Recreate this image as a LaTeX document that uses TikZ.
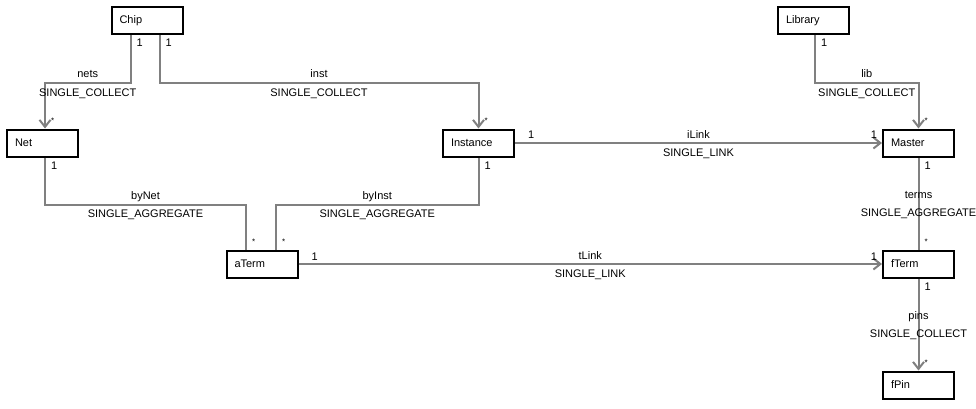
\documentclass[tikz,border=0pt]{standalone}
\usepackage{fontspec}
\setmainfont{Liberation Sans}
\usepackage{xcolor}
\usetikzlibrary{arrows.meta,positioning,calc}

\definecolor{linegray}{RGB}{128,128,128}

\begin{document}
\begin{tikzpicture}[
    x=1pt, y=1pt,
    class/.style={rectangle, draw, line width=2pt, minimum width=71pt, minimum height=27pt, text width=55pt, inner xsep=8pt, align=left, font=\fontsize{11}{13}\selectfont},
    assoc/.style={draw=linegray, line width=2pt},
    navig/.style={assoc, -{Straight Barb[length=7pt, width=11pt]}},
    mult/.style={font=\fontsize{11}{13}\selectfont, inner sep=0pt},
    onebelow/.style={mult, anchor=north west, xshift=5pt, yshift=-3pt},
    oneright/.style={mult, anchor=south west, xshift=12pt, yshift=3pt},
    oneleft/.style={mult, anchor=south east, xshift=-4pt, yshift=3pt},
    many/.style={mult, font=\fontsize{8}{10}\selectfont, anchor=base west, xshift=5pt, yshift=5pt},
    role/.style={font=\fontsize{11}{13}\selectfont, inner sep=4pt, text height=8pt, text depth=0pt},
    node distance=92pt
]
\useasboundingbox (0,0) rectangle (976,-409);

% Classes
\node[class] (chip) at (147,-20.5) {Chip};
\node[class] (library) at (813.5,-20.5) {Library};
\node[class] (net) at (42.5,-143) {Net};
\node[class] (instance) at (478.5,-143) {Instance};
\node[class] (master) at (918.5,-143) {Master};
\node[class, below=of master] (fterm) {fTerm};
\node[class, below=of fterm] (fpin) {fPin};
\node[class] (aterm) at (262,-264) {aTerm};

% Collections
\draw[navig] ([xshift=20pt]chip.south west) node[onebelow] {1} -- ++(0,-48)
    -| node[pos=0.25, role, above] {nets} node[pos=0.25, role, below] {SINGLE\_COLLECT}
    ([xshift=2.5pt]net.north) node[many] {*};
\draw[navig] ([xshift=49pt]chip.south west) node[onebelow] {1} -- ++(0,-48)
    -| node[pos=0.25, role, above] {inst} node[pos=0.25, role, below] {SINGLE\_COLLECT}
    (instance.north) node[many] {*};
\draw[navig] ([xshift=38pt]library.south west) node[onebelow] {1} -- ++(0,-48)
    -| node[pos=0.25, role, above] {lib} node[pos=0.25, role, below] {SINGLE\_COLLECT}
    (master.north) node[many] {*};
\draw[navig] (fterm.south) node[onebelow] {1}
    -- node[midway, role, above] {pins} node[midway, role, below] {SINGLE\_COLLECT}
    (fpin.north) node[many] {*};

% Aggregates
\draw[assoc] ([xshift=2.5pt]net.south) node[onebelow] {1} -- ++(0,-47)
    -| node[pos=0.25, role, above] {byNet} node[pos=0.25, role, below] {SINGLE\_AGGREGATE}
    ([xshift=-16pt]aterm.north) node[many] {*};
\draw[assoc] (instance.south) node[onebelow] {1} -- ++(0,-47)
    -| node[pos=0.25, role, above] {byInst} node[pos=0.25, role, below] {SINGLE\_AGGREGATE}
    ([xshift=14pt]aterm.north) node[many] {*};
\draw[assoc] (master.south) node[onebelow] {1}
    -- node[midway, role, above] {terms} node[midway, role, below] {SINGLE\_AGGREGATE}
    (fterm.north) node[many] {*};

% Links
\draw[navig] (instance.east) node[oneright] {1}
    -- node[midway, role, above] {iLink} node[midway, role, below] {SINGLE\_LINK}
    (master.west) node[oneleft] {1};
\draw[navig] (aterm.east) node[oneright] {1}
    -- node[midway, role, above] {tLink} node[midway, role, below] {SINGLE\_LINK}
    (fterm.west) node[oneleft] {1};

\end{tikzpicture}
\end{document}
